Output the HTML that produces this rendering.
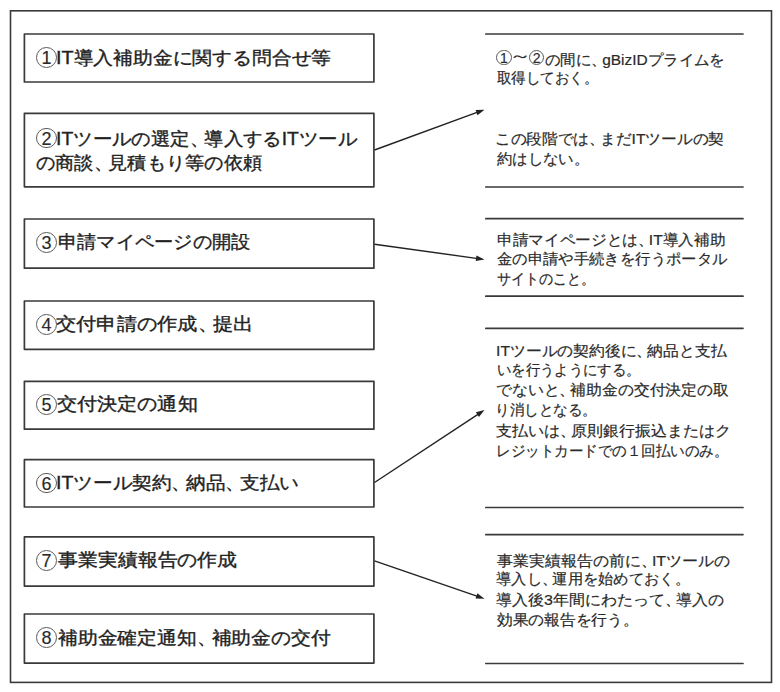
<!DOCTYPE html>
<html><head><meta charset="utf-8"><style>
html,body{margin:0;padding:0;background:#fff}
body{position:relative;font-family:"Liberation Sans",sans-serif;color:#222}
svg{position:absolute;left:0;top:0}
.l,.r{position:absolute;white-space:nowrap;transform-origin:0 0}
.l{-webkit-text-stroke:0.35px #222}
.r{-webkit-text-stroke:0.2px #2a2a2a;color:#2a2a2a}
.l{font-size:18px;line-height:20px}
.r{font-size:15px;line-height:16px}
.l .p{margin-right:-0.25em}
.r .p{margin-right:-0.3em}
.c{position:absolute;box-sizing:border-box;border:1px solid #5a5a5a;border-radius:50%;text-align:center;color:#2a2a2a;-webkit-text-stroke:0.15px #2a2a2a}

html,body{width:780px;height:692px;overflow:hidden}
</style></head><body>
<svg width="780" height="692" viewBox="0 0 780 692">
<rect x="10.5" y="10.8" width="761" height="671.6" fill="none" stroke="#3a3a3a" stroke-width="1.6"/>
<rect x="24.4" y="34" width="349.5" height="48" fill="none" stroke="#3a3a3a" stroke-width="1.7" stroke-linejoin="round"/>
<rect x="24.4" y="113.3" width="349.5" height="73.50000000000001" fill="none" stroke="#3a3a3a" stroke-width="1.7" stroke-linejoin="round"/>
<rect x="24.4" y="219" width="349.5" height="49.19999999999999" fill="none" stroke="#3a3a3a" stroke-width="1.7" stroke-linejoin="round"/>
<rect x="24.4" y="301" width="349.5" height="48.30000000000001" fill="none" stroke="#3a3a3a" stroke-width="1.7" stroke-linejoin="round"/>
<rect x="24.4" y="381.3" width="349.5" height="47.89999999999998" fill="none" stroke="#3a3a3a" stroke-width="1.7" stroke-linejoin="round"/>
<rect x="24.4" y="459.7" width="349.5" height="47.30000000000001" fill="none" stroke="#3a3a3a" stroke-width="1.7" stroke-linejoin="round"/>
<rect x="24.4" y="536.9" width="349.5" height="49.200000000000045" fill="none" stroke="#3a3a3a" stroke-width="1.7" stroke-linejoin="round"/>
<rect x="24.4" y="614" width="349.5" height="49.10000000000002" fill="none" stroke="#3a3a3a" stroke-width="1.7" stroke-linejoin="round"/>
<line x1="485.8" y1="34" x2="743" y2="34" stroke="#3a3a3a" stroke-width="1.7" stroke-linecap="round"/>
<line x1="485.8" y1="187" x2="743" y2="187" stroke="#3a3a3a" stroke-width="1.7" stroke-linecap="round"/>
<line x1="485.8" y1="218.7" x2="743" y2="218.7" stroke="#3a3a3a" stroke-width="1.7" stroke-linecap="round"/>
<line x1="485.8" y1="296.2" x2="743" y2="296.2" stroke="#3a3a3a" stroke-width="1.7" stroke-linecap="round"/>
<line x1="485.8" y1="328.3" x2="743" y2="328.3" stroke="#3a3a3a" stroke-width="1.7" stroke-linecap="round"/>
<line x1="485.8" y1="507.5" x2="743" y2="507.5" stroke="#3a3a3a" stroke-width="1.7" stroke-linecap="round"/>
<line x1="485.8" y1="534.6" x2="743" y2="534.6" stroke="#3a3a3a" stroke-width="1.7" stroke-linecap="round"/>
<line x1="485.8" y1="663.5" x2="743" y2="663.5" stroke="#3a3a3a" stroke-width="1.7" stroke-linecap="round"/>
<line x1="374.5" y1="150" x2="478.40" y2="111.94" stroke="#222" stroke-width="1.4"/>
<polygon points="484.5,109.7 477.48,115.25 475.56,109.99" fill="#222"/>
<line x1="374.5" y1="244.2" x2="478.06" y2="258.60" stroke="#222" stroke-width="1.4"/>
<polygon points="484.5,259.5 475.70,261.10 476.47,255.56" fill="#222"/>
<line x1="374.5" y1="482.5" x2="479.07" y2="413.58" stroke="#222" stroke-width="1.4"/>
<polygon points="484.5,410 478.94,417.02 475.86,412.34" fill="#222"/>
<line x1="374.5" y1="560.8" x2="478.35" y2="596.58" stroke="#222" stroke-width="1.4"/>
<polygon points="484.5,598.7 475.55,598.58 477.38,593.28" fill="#222"/>
</svg>
<div class="l" style="left:55.80px;top:47.70px;transform:scaleX(1.1008)">IT導入補助金に関する問合せ等</div>
<div class="l" style="left:55.82px;top:128.60px;transform:scaleX(1.0773)">ITツールの選定<span class="p">、</span>導入するITツール</div>
<div class="l" style="left:35.93px;top:152.50px;transform:scaleX(1.0690)">の商談<span class="p">、</span>見積もり等の依頼</div>
<div class="l" style="left:57.63px;top:232.30px;transform:scaleX(1.0685)">申請マイページの開設</div>
<div class="l" style="left:56.48px;top:314.40px;transform:scaleX(1.1244)">交付申請の作成<span class="p">、</span>提出</div>
<div class="l" style="left:56.68px;top:394.20px;transform:scaleX(1.1161)">交付決定の通知</div>
<div class="l" style="left:56.31px;top:473.30px;transform:scaleX(1.0887)">ITツール契約<span class="p">、</span>納品<span class="p">、</span>支払い</div>
<div class="l" style="left:57.80px;top:550.30px;transform:scaleX(1.1063)">事業実績報告の作成</div>
<div class="l" style="left:58.30px;top:627.50px;transform:scaleX(1.1004)">補助金確定通知<span class="p">、</span>補助金の交付</div>
<div class="r" style="left:509.03px;top:47.80px;transform:scaleX(1.4889)">～</div>
<div class="r" style="left:544.78px;top:51.90px;transform:scaleX(1.0300)">の間に<span class="p">、</span>gBizIDプライムを</div>
<div class="r" style="left:497.00px;top:70.00px;transform:scaleX(0.9663)">取得しておく。</div>
<div class="r" style="left:494.91px;top:131.00px;transform:scaleX(1.0463)">この段階では<span class="p">、</span>まだITツールの契</div>
<div class="r" style="left:497.00px;top:150.80px;transform:scaleX(1.0238)">約はしない。</div>
<div class="r" style="left:496.66px;top:231.50px;transform:scaleX(1.0433)">申請マイページとは<span class="p">、</span>IT導入補助</div>
<div class="r" style="left:496.68px;top:250.70px;transform:scaleX(1.0237)">金の申請や手続きを行うポータル</div>
<div class="r" style="left:496.77px;top:270.90px;transform:scaleX(0.9351)">サイトのこと。</div>
<div class="r" style="left:496.45px;top:342.70px;transform:scaleX(1.0527)">ITツールの契約後に<span class="p">、</span>納品と支払</div>
<div class="r" style="left:496.54px;top:361.90px;transform:scaleX(0.9562)">いを行うようにする。</div>
<div class="r" style="left:496.45px;top:382.00px;transform:scaleX(1.0557)">でないと<span class="p">、</span>補助金の交付決定の取</div>
<div class="r" style="left:494.61px;top:402.30px;transform:scaleX(0.9684)">り消しとなる。</div>
<div class="r" style="left:496.44px;top:422.50px;transform:scaleX(1.0655)">支払いは<span class="p">、</span>原則銀行振込またはク</div>
<div class="r" style="left:495.56px;top:442.70px;transform:scaleX(0.9667)">レジットカードでの１回払いのみ。</div>
<div class="r" style="left:497.30px;top:552.50px;transform:scaleX(1.0647)">事業実績報告の前に<span class="p">、</span>ITツールの</div>
<div class="r" style="left:496.29px;top:570.70px;transform:scaleX(1.0172)">導入し<span class="p">、</span>運用を始めておく。</div>
<div class="r" style="left:496.24px;top:591.90px;transform:scaleX(1.0646)">導入後3年間にわたって<span class="p">、</span>導入の</div>
<div class="r" style="left:497.30px;top:612.10px;transform:scaleX(1.0497)">効果の報告を行う。</div>
<div class="c" style="left:36.10px;top:46.90px;width:20.8px;height:20.8px;font-size:18px;line-height:20.90px">1</div>
<div class="c" style="left:36.10px;top:127.50px;width:20.8px;height:20.8px;font-size:18px;line-height:20.90px">2</div>
<div class="c" style="left:36.10px;top:232.00px;width:20.8px;height:20.8px;font-size:18px;line-height:20.90px">3</div>
<div class="c" style="left:36.10px;top:313.80px;width:20.8px;height:20.8px;font-size:18px;line-height:20.90px">4</div>
<div class="c" style="left:36.10px;top:394.00px;width:20.8px;height:20.8px;font-size:18px;line-height:20.90px">5</div>
<div class="c" style="left:36.10px;top:472.50px;width:20.8px;height:20.8px;font-size:18px;line-height:20.90px">6</div>
<div class="c" style="left:36.10px;top:550.10px;width:20.8px;height:20.8px;font-size:18px;line-height:20.90px">7</div>
<div class="c" style="left:36.10px;top:627.00px;width:20.8px;height:20.8px;font-size:18px;line-height:20.90px">8</div>
<div class="c" style="left:496.30px;top:49.60px;width:15.3px;height:15.3px;font-size:14px;line-height:14.80px">1</div>
<div class="c" style="left:529.00px;top:49.60px;width:15.3px;height:15.3px;font-size:14px;line-height:14.80px">2</div>
</body></html>
